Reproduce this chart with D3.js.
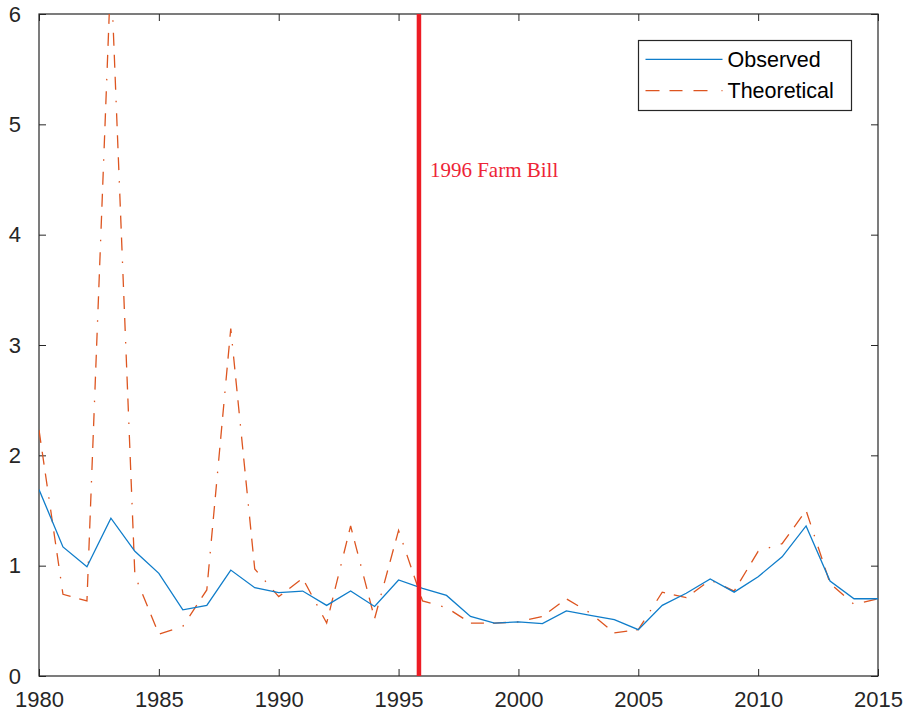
<!DOCTYPE html>
<html>
<head>
<meta charset="utf-8">
<script src="https://cdn.jsdelivr.net/npm/d3@7"></script>
<style>
  body { margin: 0; background: #fff; }
  svg { display: block; }
  .tick text { font-family: "Liberation Sans", Arial, sans-serif; font-size: 22px; fill: #262626; }
</style>
</head>
<body>
<div id="chart"></div>
<script>
// data
var years = d3.range(1980, 2016);
var observed = [1.69, 1.17, 0.99, 1.43, 1.13, 0.93, 0.60, 0.64, 0.96, 0.80,
                0.755, 0.77, 0.64, 0.77, 0.63, 0.87, 0.795, 0.73, 0.54, 0.48,
                0.49, 0.475, 0.59, 0.55, 0.51, 0.42, 0.64, 0.75, 0.88, 0.76,
                0.90, 1.08, 1.36, 0.86, 0.70, 0.70];
var theoretical = [2.23, 0.74, 0.68, 6.4, 0.91, 0.38, 0.45, 0.78, 3.15, 0.97,
                   0.72, 0.885, 0.48, 1.36, 0.52, 1.32, 0.68, 0.62, 0.48, 0.48,
                   0.49, 0.54, 0.70, 0.57, 0.39, 0.42, 0.76, 0.71, 0.87, 0.77,
                   1.13, 1.20, 1.50, 0.84, 0.65, 0.70];
var xTicks = [1980, 1985, 1990, 1995, 2000, 2005, 2010, 2015];
var yTicks = [0, 1, 2, 3, 4, 5, 6];
var farmBillYear = 1995.85;
var farmBillLabel = '1996 Farm Bill';
var seriesNames = ['Observed', 'Theoretical'];

var margin = { top: 14, right: 28, bottom: 42, left: 39 },
    width = 906 - margin.left - margin.right,
    height = 718 - margin.top - margin.bottom;

var svg = d3.select('#chart')
  .append('svg')
  .attr('width', 906)
  .attr('height', 718)
  .append('g')
  .attr('transform', 'translate(' + margin.left + ',' + margin.top + ')');

var x = d3.scaleLinear().domain([1980, 2015]).range([0, width]);
var y = d3.scaleLinear().domain([0, 6]).range([height, 0]);

svg.append('clipPath').attr('id', 'plot-clip')
  .append('rect').attr('width', width).attr('height', height);

// axes, ticks pointing inwards on all four sides
var axisColor = '#262626';
function styleAxis(g) {
  g.select('.domain').remove();
  g.selectAll('.tick line').attr('stroke', axisColor);
}
svg.append('g')
  .attr('transform', 'translate(0,' + height + ')')
  .call(d3.axisBottom(x).tickValues(xTicks).tickFormat(d3.format('d')).tickSizeInner(-7).tickSizeOuter(0).tickPadding(15))
  .call(styleAxis);
svg.append('g')
  .call(d3.axisTop(x).tickValues(xTicks).tickFormat('').tickSizeInner(-7).tickSizeOuter(0))
  .call(styleAxis);
svg.append('g')
  .call(d3.axisLeft(y).tickValues(yTicks).tickFormat(d3.format('d')).tickSizeInner(-7).tickSizeOuter(0).tickPadding(18))
  .call(styleAxis);
svg.append('g')
  .attr('transform', 'translate(' + width + ',0)')
  .call(d3.axisRight(y).tickValues(yTicks).tickFormat('').tickSizeInner(-7).tickSizeOuter(0))
  .call(styleAxis);

svg.append('rect')
  .attr('width', width)
  .attr('height', height)
  .attr('fill', 'none')
  .attr('stroke', axisColor)
  .attr('stroke-width', 1.2);

var line = d3.line()
  .x(function(d) { return x(d.year); })
  .y(function(d) { return y(d.value); });

var blue = '#0f7dca', orange = '#DD5520';
var dashes = '13,9,13,9,13,11,1.5,11';

svg.append('path')
  .datum(years.map(function(yr, i) { return { year: yr, value: theoretical[i] }; }))
  .attr('clip-path', 'url(#plot-clip)')
  .attr('d', line)
  .attr('fill', 'none')
  .attr('stroke', orange)
  .attr('stroke-width', 1.3)
  .attr('stroke-dasharray', dashes);

svg.append('path')
  .datum(years.map(function(yr, i) { return { year: yr, value: observed[i] }; }))
  .attr('clip-path', 'url(#plot-clip)')
  .attr('d', line)
  .attr('fill', 'none')
  .attr('stroke', blue)
  .attr('stroke-width', 1.3);

// 1996 Farm Bill marker
svg.append('line')
  .attr('x1', x(farmBillYear)).attr('x2', x(farmBillYear))
  .attr('y1', 0).attr('y2', height)
  .attr('stroke', '#ED1C24')
  .attr('stroke-width', 4.5);

svg.append('text')
  .attr('x', x(farmBillYear) + 11)
  .attr('y', y(4.52))
  .attr('font-family', '"Liberation Serif", "Times New Roman", serif')
  .attr('font-size', '21px')
  .attr('fill', '#EE2436')
  .text(farmBillLabel);

// legend
var legend = svg.append('g').attr('transform', 'translate(' + (638.5 - margin.left) + ',' + (40.5 - margin.top) + ')');
legend.append('rect')
  .attr('width', 213).attr('height', 70)
  .attr('fill', '#fff').attr('stroke', axisColor).attr('stroke-width', 1.2);
[blue, orange].forEach(function(c, i) {
  var ly = 18.8 + i * 31.4;
  legend.append('line')
    .attr('x1', 7).attr('x2', 84).attr('y1', ly).attr('y2', ly)
    .attr('stroke', c).attr('stroke-width', 1.3)
    .attr('stroke-dasharray', i === 1 ? '14,10,13,11,14,14,1.5,20' : null);
  legend.append('text')
    .attr('x', 89).attr('y', ly).attr('dy', '0.36em')
    .attr('font-family', '"Liberation Sans", Arial, sans-serif')
    .attr('font-size', '21.5px')
    .attr('fill', '#000')
    .text(seriesNames[i]);
});
</script>
</body>
</html>
